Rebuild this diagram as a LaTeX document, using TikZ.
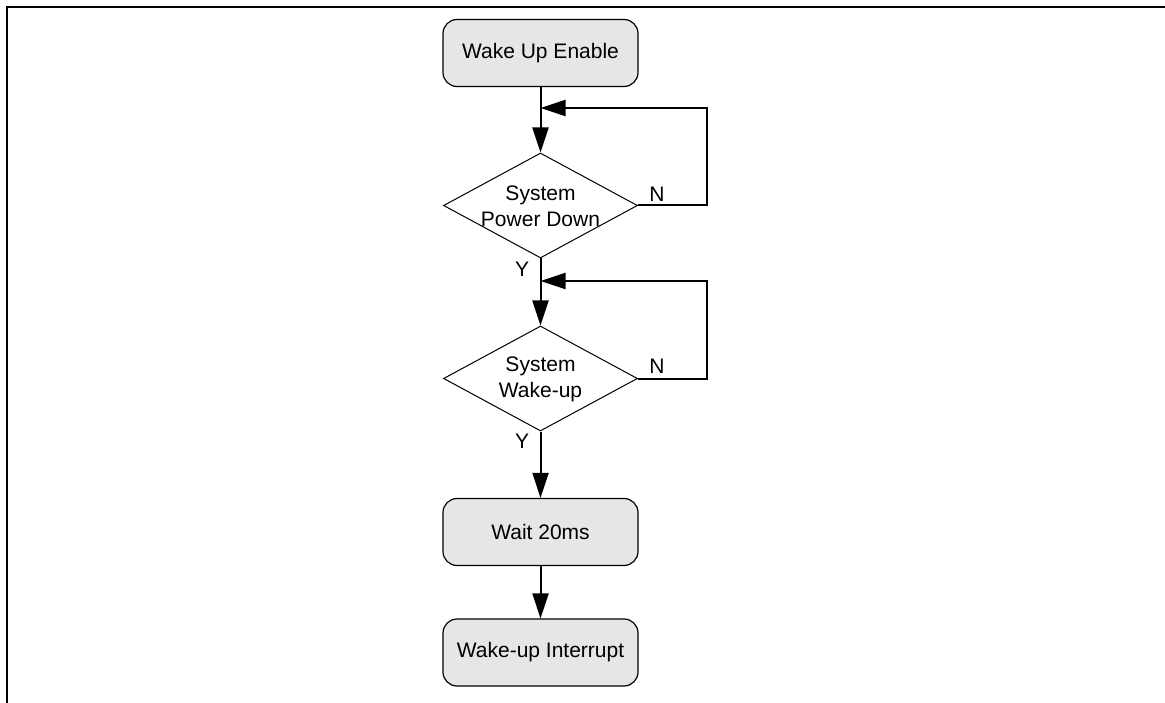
\documentclass[tikz,border=0pt]{standalone}
\usepackage{fontspec}
\setmainfont{Liberation Sans}
\usetikzlibrary{shapes.geometric,arrows.meta}
\definecolor{boxgray}{RGB}{230,230,230}
\begin{document}
\begin{tikzpicture}[x=1pt,y=-1pt,
 proc/.style={draw, line width=1.2pt, fill=boxgray, rounded corners=14pt, minimum width=195pt, minimum height=67pt, inner sep=0pt, font=\fontsize{21}{25}\selectfont},
 decision/.style={draw, line width=1pt, diamond, minimum width=194pt, minimum height=105pt, inner sep=0pt},
 dtext/.style={align=center, inner sep=0pt, font=\fontsize{21}{26}\selectfont},
 flow/.style={line width=2pt, -{Triangle[length=25pt,width=16pt]}},
 lbl/.style={font=\fontsize{21}{25}\selectfont, inner sep=0pt}]
\useasboundingbox (0,0) rectangle (1165,703);
\draw[line width=2pt] (6.5,703) -- (6.5,7) -- (1165,7);

\node[proc] (n1) at (540.5,53) {Wake Up Enable};
\node[decision] (d1) at (540.5,205.5) {};
\node[dtext] (t1) at (540.5,206) {System\\Power Down};
\node[decision] (d2) at (540.5,378.5) {};
\node[dtext] (t2) at (540.5,379) {System\\Wake-up};
\node[proc] (n3) at (540.5,532) {Wait 20ms};
\node[proc] (n4) at (540.5,652.5) {Wake-up Interrupt};

\coordinate (j1) at (540.5,108);
\coordinate (j2) at (540.5,281);

\draw[flow] (n1.south) -- (d1.north);
\draw[flow] (d1.east) -- ++(69,0) |- (j1);
\draw[flow] (d1.south) -- (d2.north);
\draw[flow] (d2.east) -- ++(69,0) |- (j2);
\draw[flow] (d2.south) -- (n3.north);
\draw[flow] (n3.south) -- (n4.north);

\node[lbl] (N1) at (657,194) {N};
\node[lbl] (Y1) at (522,269) {Y};
\node[lbl] (N2) at (657,366) {N};
\node[lbl] (Y2) at (522,441) {Y};
\end{tikzpicture}
\end{document}
